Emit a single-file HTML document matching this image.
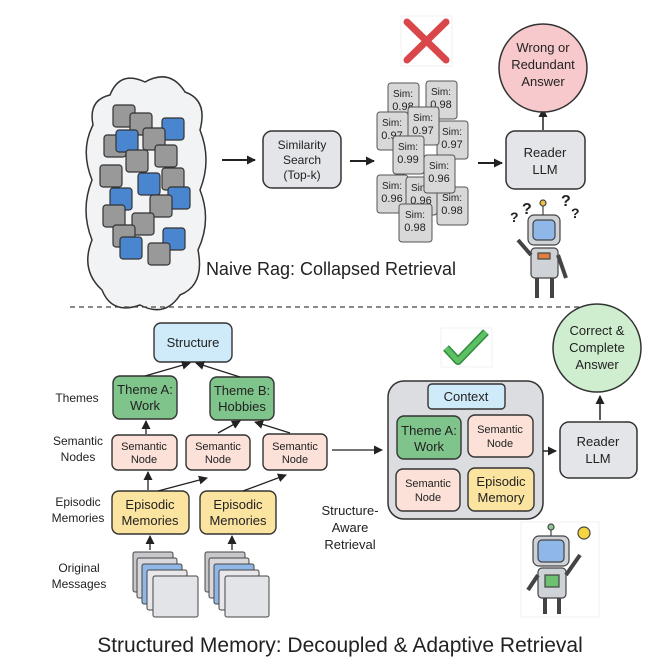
<!DOCTYPE html>
<html><head><meta charset="utf-8"><style>
html,body{margin:0;padding:0;background:#fff}
svg{display:block}
text{font-family:"Liberation Sans",sans-serif;fill:#222}
</style></head><body>
<svg width="662" height="672" viewBox="0 0 662 672" xmlns="http://www.w3.org/2000/svg">
<defs>
<marker id="ah" markerUnits="userSpaceOnUse" markerWidth="9" markerHeight="9" refX="8" refY="4.5" orient="auto"><path d="M0,0 L9,4.5 L0,9 Z" fill="#222"/></marker>
</defs>
<rect width="662" height="672" fill="#fff"/>
<!-- cloud -->
<path d="M110,95 Q120,70 145,82 Q170,68 185,92 Q208,100 200,130 Q212,160 200,190 Q212,220 198,250 Q205,285 180,295 Q165,318 140,305 Q112,315 102,290 Q80,270 92,240 Q80,210 92,180 Q80,150 93,125 Q88,100 110,95 Z" fill="#f2f3f5" stroke="#333" stroke-width="1.5"/>
<g stroke="#333" stroke-width="1.2">
<rect x="113" y="105" width="22" height="22" rx="3" fill="#999"/>
<rect x="130" y="113" width="22" height="22" rx="3" fill="#999"/>
<rect x="162" y="118" width="22" height="22" rx="3" fill="#4a86d0"/>
<rect x="143" y="128" width="22" height="22" rx="3" fill="#999"/>
<rect x="104" y="135" width="22" height="22" rx="3" fill="#999"/>
<rect x="116" y="130" width="22" height="22" rx="3" fill="#4a86d0"/>
<rect x="155" y="145" width="22" height="22" rx="3" fill="#999"/>
<rect x="126" y="150" width="22" height="22" rx="3" fill="#999"/>
<rect x="100" y="165" width="22" height="22" rx="3" fill="#999"/>
<rect x="162" y="168" width="22" height="22" rx="3" fill="#999"/>
<rect x="138" y="173" width="22" height="22" rx="3" fill="#4a86d0"/>
<rect x="110" y="188" width="22" height="22" rx="3" fill="#4a86d0"/>
<rect x="168" y="187" width="22" height="22" rx="3" fill="#4a86d0"/>
<rect x="150" y="195" width="22" height="22" rx="3" fill="#999"/>
<rect x="103" y="205" width="22" height="22" rx="3" fill="#999"/>
<rect x="132" y="213" width="22" height="22" rx="3" fill="#999"/>
<rect x="113" y="225" width="22" height="22" rx="3" fill="#999"/>
<rect x="163" y="228" width="22" height="22" rx="3" fill="#4a86d0"/>
<rect x="120" y="237" width="22" height="22" rx="3" fill="#4a86d0"/>
<rect x="148" y="243" width="22" height="22" rx="3" fill="#999"/>
</g>
<line x1="222" y1="160" x2="255" y2="160" stroke="#222" stroke-width="2" marker-end="url(#ah)"/>
<rect x="263" y="131" width="78" height="57" rx="9" fill="#e4e5e8" stroke="#333" stroke-width="1.5"/>
<text x="302" y="149" font-size="12" text-anchor="middle">Similarity</text>
<text x="302" y="164" font-size="12" text-anchor="middle">Search</text>
<text x="302" y="179" font-size="12" text-anchor="middle">(Top-k)</text>
<line x1="350" y1="161" x2="374" y2="161" stroke="#222" stroke-width="2" marker-end="url(#ah)"/>
<g font-size="11" stroke="#555" stroke-width="1">
<rect x="388" y="83" width="31" height="38" rx="3" fill="#d8d8d8"/><text x="403" y="97" text-anchor="middle" stroke="none" font-size="10">Sim:</text><text x="403" y="110" text-anchor="middle" stroke="none">0.98</text>
<rect x="426" y="81" width="31" height="38" rx="3" fill="#d8d8d8"/><text x="441" y="95" text-anchor="middle" stroke="none" font-size="10">Sim:</text><text x="441" y="108" text-anchor="middle" stroke="none">0.98</text>
<rect x="377" y="112" width="31" height="38" rx="3" fill="#d8d8d8"/><text x="392" y="126" text-anchor="middle" stroke="none" font-size="10">Sim:</text><text x="392" y="139" text-anchor="middle" stroke="none">0.97</text>
<rect x="437" y="121" width="31" height="38" rx="3" fill="#d8d8d8"/><text x="452" y="135" text-anchor="middle" stroke="none" font-size="10">Sim:</text><text x="452" y="148" text-anchor="middle" stroke="none">0.97</text>
<rect x="408" y="107" width="31" height="38" rx="3" fill="#d8d8d8"/><text x="423" y="121" text-anchor="middle" stroke="none" font-size="10">Sim:</text><text x="423" y="134" text-anchor="middle" stroke="none">0.97</text>
<rect x="393" y="136" width="31" height="38" rx="3" fill="#d8d8d8"/><text x="408" y="150" text-anchor="middle" stroke="none" font-size="10">Sim:</text><text x="408" y="163" text-anchor="middle" stroke="none">0.99</text>
<rect x="377" y="175" width="31" height="38" rx="3" fill="#d8d8d8"/><text x="392" y="189" text-anchor="middle" stroke="none" font-size="10">Sim:</text><text x="392" y="202" text-anchor="middle" stroke="none">0.96</text>
<rect x="406" y="177" width="31" height="38" rx="3" fill="#d8d8d8"/><text x="421" y="191" text-anchor="middle" stroke="none" font-size="10">Sim:</text><text x="421" y="204" text-anchor="middle" stroke="none">0.96</text>
<rect x="437" y="187" width="31" height="38" rx="3" fill="#d8d8d8"/><text x="452" y="201" text-anchor="middle" stroke="none" font-size="10">Sim:</text><text x="452" y="214" text-anchor="middle" stroke="none">0.98</text>
<rect x="424" y="155" width="31" height="38" rx="3" fill="#d8d8d8"/><text x="439" y="169" text-anchor="middle" stroke="none" font-size="10">Sim:</text><text x="439" y="182" text-anchor="middle" stroke="none">0.96</text>
<rect x="399" y="204" width="33" height="38" rx="3" fill="#d8d8d8"/><text x="415" y="218" text-anchor="middle" stroke="none" font-size="10">Sim:</text><text x="415" y="231" text-anchor="middle" stroke="none">0.98</text>
</g>
<rect x="401" y="16" width="51" height="50" fill="#fff" stroke="#e4e4e4" stroke-width="0.5"/>
<path d="M407,22 L446,60 M446,22 L407,60" stroke="#d9474a" stroke-width="7" stroke-linecap="round"/>
<line x1="478" y1="163" x2="502" y2="163" stroke="#222" stroke-width="2" marker-end="url(#ah)"/>
<rect x="506" y="131" width="79" height="58" rx="9" fill="#e4e5e8" stroke="#333" stroke-width="1.5"/>
<text x="545" y="157" font-size="13" text-anchor="middle">Reader</text>
<text x="545" y="174" font-size="13" text-anchor="middle">LLM</text>
<line x1="543" y1="130" x2="543" y2="109" stroke="#222" stroke-width="1.5" marker-end="url(#ah)"/>
<circle cx="543" cy="68" r="44" fill="#f8c9cc" stroke="#333" stroke-width="1.5"/>
<text x="543" y="52" font-size="13" text-anchor="middle">Wrong or</text>
<text x="543" y="69" font-size="13" text-anchor="middle">Redundant</text>
<text x="543" y="86" font-size="13" text-anchor="middle">Answer</text>
<g stroke="#444" stroke-width="1.2">
<line x1="543" y1="205" x2="543" y2="215"/><circle cx="543" cy="203" r="3" fill="#f0c040"/>
<rect x="528" y="215" width="32" height="30" rx="6" fill="#cfd2d6"/>
<rect x="533" y="220" width="22" height="20" rx="4" fill="#8fb8e8"/>
<rect x="531" y="248" width="27" height="30" rx="4" fill="#cfd2d6"/>
<rect x="538" y="253" width="12" height="6" fill="#e08040"/>
<line x1="531" y1="255" x2="518" y2="240" stroke-width="4"/>
<line x1="558" y1="255" x2="566" y2="278" stroke-width="4"/>
<line x1="537" y1="278" x2="537" y2="298" stroke-width="4"/>
<line x1="552" y1="278" x2="552" y2="298" stroke-width="4"/>
</g>
<text x="522" y="214" font-size="16" fill="#c04050" font-weight="bold">?</text>
<text x="510" y="222" font-size="14" fill="#4a86d0" font-weight="bold">?</text>
<text x="561" y="206" font-size="16" fill="#c04050" font-weight="bold">?</text>
<text x="571" y="218" font-size="14" fill="#c04050" font-weight="bold">?</text>
<text x="331" y="275" font-size="18" text-anchor="middle">Naive Rag: Collapsed Retrieval</text>
<line x1="70" y1="307" x2="580" y2="307" stroke="#444" stroke-width="1.3" stroke-dasharray="5,4"/>

<g stroke="#333" stroke-width="1.4">
<rect x="154" y="323" width="78" height="39" rx="7" fill="#cfeaf8"/>
<rect x="113" y="376" width="64" height="43" rx="7" fill="#7fc48a"/>
<rect x="210" y="377" width="64" height="43" rx="7" fill="#7fc48a"/>
<rect x="112" y="435" width="65" height="35" rx="6" fill="#fbe1d8"/>
<rect x="186" y="435" width="64" height="35" rx="6" fill="#fbe1d8"/>
<rect x="263" y="434" width="64" height="36" rx="6" fill="#fbe1d8"/>
<rect x="112" y="491" width="77" height="43" rx="7" fill="#fbe3a0"/>
<rect x="200" y="491" width="76" height="43" rx="7" fill="#fbe3a0"/>
</g>
<text x="193" y="347" font-size="13" text-anchor="middle">Structure</text>
<text x="145" y="394" font-size="13" text-anchor="middle">Theme A:</text><text x="145" y="410" font-size="13" text-anchor="middle">Work</text>
<text x="242" y="395" font-size="13" text-anchor="middle">Theme B:</text><text x="242" y="411" font-size="13" text-anchor="middle">Hobbies</text>
<g font-size="11" text-anchor="middle">
<text x="144" y="450">Semantic</text><text x="144" y="463">Node</text>
<text x="218" y="450">Semantic</text><text x="218" y="463">Node</text>
<text x="295" y="450">Semantic</text><text x="295" y="463">Node</text>
</g>
<text x="150" y="509" font-size="13" text-anchor="middle">Episodic</text><text x="150" y="525" font-size="13" text-anchor="middle">Memories</text>
<text x="238" y="509" font-size="13" text-anchor="middle">Episodic</text><text x="238" y="525" font-size="13" text-anchor="middle">Memories</text>
<g font-size="12" text-anchor="middle">
<text x="77" y="402">Themes</text>
<text x="78" y="445">Semantic</text><text x="78" y="461">Nodes</text>
<text x="78" y="506">Episodic</text><text x="78" y="522">Memories</text>
<text x="79" y="572">Original</text><text x="79" y="588">Messages</text>
</g>
<g stroke="#222" stroke-width="1.3" marker-end="url(#ah)">
<line x1="145" y1="376" x2="190" y2="363"/>
<line x1="240" y1="377" x2="196" y2="363"/>
<line x1="146" y1="434" x2="146" y2="421"/>
<line x1="218" y1="433" x2="240" y2="421"/>
<line x1="290" y1="433" x2="255" y2="422"/>
<line x1="148" y1="490" x2="148" y2="472"/>
<line x1="158" y1="491" x2="207" y2="478"/>
<line x1="243" y1="491" x2="286" y2="475"/>
<line x1="150" y1="550" x2="150" y2="536"/>
<line x1="232" y1="550" x2="232" y2="536"/>
<line x1="332" y1="450" x2="382" y2="450"/>
</g>
<g stroke="#444" stroke-width="1">
<rect x="133" y="552" width="40" height="40" rx="2" fill="#c8c8cc"/>
<rect x="137" y="558" width="40" height="40" rx="2" fill="#d8d8dc"/>
<rect x="142" y="564" width="40" height="40" rx="2" fill="#8fb8e8"/>
<rect x="147" y="570" width="40" height="40" rx="2" fill="#e8e8ec"/>
<rect x="153" y="576" width="45" height="41" rx="2" fill="#e2e4e8"/>
<rect x="205" y="552" width="40" height="40" rx="2" fill="#c8c8cc"/>
<rect x="209" y="558" width="40" height="40" rx="2" fill="#d8d8dc"/>
<rect x="214" y="564" width="40" height="40" rx="2" fill="#8fb8e8"/>
<rect x="219" y="570" width="40" height="40" rx="2" fill="#e8e8ec"/>
<rect x="225" y="576" width="44" height="41" rx="2" fill="#e2e4e8"/>
</g>
<rect x="441" y="328" width="51" height="39" fill="#fff" stroke="#e4e4e4" stroke-width="0.5"/>
<path d="M446,348 L458,361 L486,332" fill="none" stroke="#2f8a3a" stroke-width="8" stroke-linejoin="round"/>
<path d="M446,348 L458,361 L486,332" fill="none" stroke="#5cc065" stroke-width="5" stroke-linejoin="round"/>
<rect x="388" y="381" width="155" height="138" rx="16" fill="#dcdde0" stroke="#333" stroke-width="1.5"/>
<g stroke="#333" stroke-width="1.4">
<rect x="428" y="384" width="77" height="25" rx="4" fill="#cfeaf8"/>
<rect x="397" y="416" width="64" height="43" rx="7" fill="#7fc48a"/>
<rect x="468" y="415" width="65" height="42" rx="7" fill="#fbe1d8"/>
<rect x="396" y="469" width="64" height="42" rx="7" fill="#fbe1d8"/>
<rect x="468" y="468" width="66" height="43" rx="7" fill="#fbe3a0"/>
</g>
<text x="466" y="401" font-size="13" text-anchor="middle">Context</text>
<text x="429" y="435" font-size="13" text-anchor="middle">Theme A:</text><text x="429" y="451" font-size="13" text-anchor="middle">Work</text>
<text x="500" y="433" font-size="11" text-anchor="middle">Semantic</text><text x="500" y="447" font-size="11" text-anchor="middle">Node</text>
<text x="428" y="487" font-size="11" text-anchor="middle">Semantic</text><text x="428" y="501" font-size="11" text-anchor="middle">Node</text>
<text x="501" y="486" font-size="13" text-anchor="middle">Episodic</text><text x="501" y="502" font-size="13" text-anchor="middle">Memory</text>
<text x="350" y="515" font-size="13" text-anchor="middle">Structure-</text>
<text x="350" y="532" font-size="13" text-anchor="middle">Aware</text>
<text x="350" y="549" font-size="13" text-anchor="middle">Retrieval</text>
<line x1="543" y1="451" x2="556" y2="451" stroke="#222" stroke-width="1.5" marker-end="url(#ah)"/>
<rect x="560" y="422" width="77" height="56" rx="9" fill="#e4e5e8" stroke="#333" stroke-width="1.5"/>
<text x="598" y="446" font-size="13" text-anchor="middle">Reader</text>
<text x="598" y="463" font-size="13" text-anchor="middle">LLM</text>
<line x1="600" y1="420" x2="600" y2="396" stroke="#222" stroke-width="1.5" marker-end="url(#ah)"/>
<circle cx="597" cy="348" r="44" fill="#cfeecf" stroke="#333" stroke-width="1.5"/>
<text x="597" y="335" font-size="13" text-anchor="middle">Correct &amp;</text>
<text x="597" y="352" font-size="13" text-anchor="middle">Complete</text>
<text x="597" y="369" font-size="13" text-anchor="middle">Answer</text>
<rect x="521" y="522" width="78" height="95" fill="#fff" stroke="#e4e4e4" stroke-width="0.5"/>
<g stroke="#444" stroke-width="1.2">
<line x1="551" y1="528" x2="551" y2="536"/><circle cx="551" cy="527" r="3" fill="#8fc890"/>
<rect x="533" y="536" width="36" height="30" rx="6" fill="#cfd2d6"/>
<rect x="538" y="540" width="26" height="22" rx="4" fill="#8fb8e8"/>
<rect x="538" y="568" width="28" height="30" rx="4" fill="#cfd2d6"/>
<rect x="545" y="575" width="14" height="12" fill="#6cc070"/>
<line x1="538" y1="575" x2="528" y2="590" stroke-width="4"/>
<line x1="566" y1="575" x2="580" y2="555" stroke-width="4"/>
<line x1="545" y1="598" x2="545" y2="614" stroke-width="4"/>
<line x1="559" y1="598" x2="559" y2="614" stroke-width="4"/>
<circle cx="584" cy="533" r="6" fill="#f6d640"/>
</g>
<text x="340" y="652" font-size="21" text-anchor="middle">Structured Memory: Decoupled &amp; Adaptive Retrieval</text>
</svg>
</body></html>
